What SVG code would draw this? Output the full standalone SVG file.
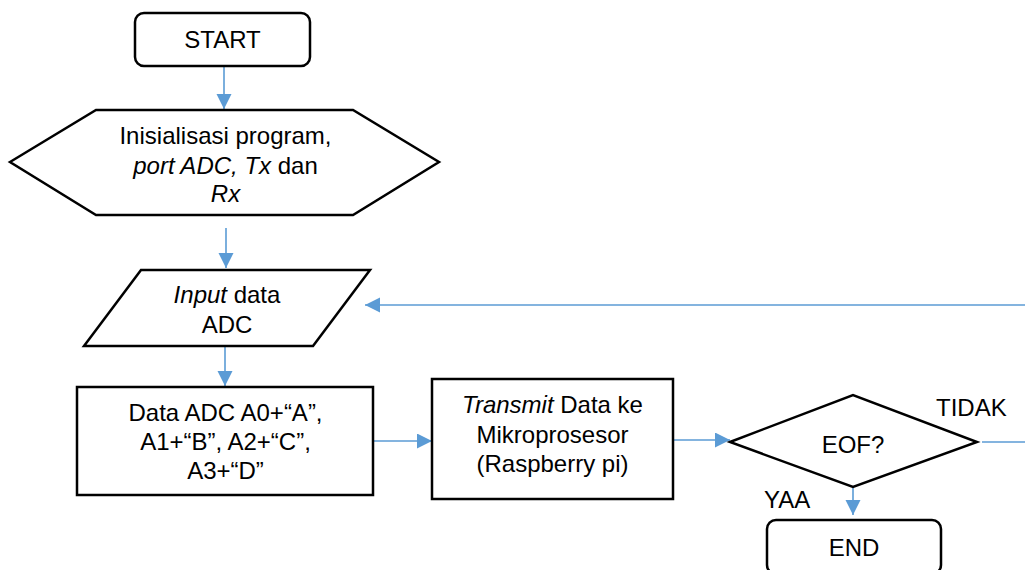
<svg xmlns="http://www.w3.org/2000/svg" width="1025" height="570" viewBox="0 0 1025 570">
<defs>
<style>
.shape{fill:#fff;stroke:#000;stroke-width:2.5}
.conn{stroke:#5B9BD5;stroke-width:1.6;fill:none}
text{font-family:"Liberation Sans",Arial,sans-serif;font-size:24px;fill:#000;text-anchor:middle}
.i{font-style:italic}
.l{text-anchor:start}
</style>
<marker id="ah" markerUnits="userSpaceOnUse" markerWidth="16" markerHeight="16" refX="15" refY="7.5" orient="auto">
<path d="M0,0 L15,7.5 L0,15 z" fill="#5B9BD5"/>
</marker>
</defs>
<rect width="1025" height="570" fill="#fff"/>
<g id="connectors">
<line class="conn" x1="224" y1="66" x2="224" y2="109" marker-end="url(#ah)"/>
<line class="conn" x1="226" y1="228" x2="226" y2="268" marker-end="url(#ah)"/>
<line class="conn" x1="225" y1="346" x2="225" y2="386" marker-end="url(#ah)"/>
<line class="conn" x1="373" y1="441" x2="432" y2="441" marker-end="url(#ah)"/>
<line class="conn" x1="673" y1="440" x2="730" y2="440" marker-end="url(#ah)"/>
<line class="conn" x1="853" y1="487" x2="853" y2="515" marker-end="url(#ah)"/>
<line class="conn" x1="982" y1="442" x2="1025" y2="442"/>
<line class="conn" x1="1025" y1="305" x2="365" y2="305" marker-end="url(#ah)"/>
<text class="l" x="936" y="416">TIDAK</text>
<text class="l" x="764" y="508">YAA</text>
</g>
<g id="start">
<rect class="shape" x="135" y="13" width="175" height="53" rx="9"/>
<text x="222.5" y="48">START</text>
</g>
<g id="init">
<polygon class="shape" points="10,162 96,110 353,110 439,162 353,215 96,215"/>
<text x="225.5" y="144">Inisialisasi program,</text>
<text x="225.5" y="174"><tspan class="i">port ADC, Tx</tspan> dan</text>
<text x="225.5" y="202" class="i">Rx</text>
</g>
<g id="input">
<polygon class="shape" points="141,270 370,270 313,346 84,346"/>
<text x="227" y="303"><tspan class="i">Input</tspan> data</text>
<text x="227" y="333">ADC</text>
</g>
<g id="data">
<rect class="shape" x="77" y="387" width="296" height="108"/>
<text x="225.5" y="421">Data ADC A0+“A”,</text>
<text x="225.5" y="450">A1+“B”, A2+“C”,</text>
<text x="225.5" y="479">A3+“D”</text>
</g>
<g id="transmit">
<rect class="shape" x="432" y="379" width="241" height="120"/>
<text x="552.5" y="413"><tspan class="i">Transmit</tspan> Data ke</text>
<text x="552.5" y="442.5">Mikroprosesor</text>
<text x="552.5" y="472">(Raspberry pi)</text>
</g>
<g id="eof">
<polygon class="shape" points="730,442 853,395 977,442 853,487"/>
<text x="853" y="453">EOF?</text>
</g>
<g id="end">
<rect class="shape" x="767" y="520" width="174" height="54" rx="9"/>
<text x="854" y="556">END</text>
</g>
</svg>
